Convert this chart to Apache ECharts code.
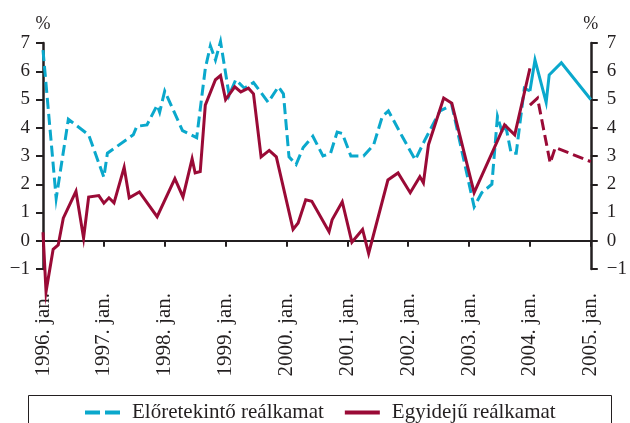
<!DOCTYPE html>
<html>
<head>
<meta charset="utf-8">
<script src="https://cdn.jsdelivr.net/npm/echarts@6/dist/echarts.min.js"></script>
<style>
  html, body { margin: 0; padding: 0; background: #fff; }
  #chart { width: 630px; height: 423px; }
</style>
</head>
<body>
<div id="chart"></div>
<script>
// x = months since 1996. jan.
const xLabels = ['1996. jan.', '1997. jan.', '1998. jan.', '1999. jan.', '2000. jan.',
  '2001. jan.', '2002. jan.', '2003. jan.', '2004. jan.', '2005. jan.']
const yTicks = [-1, 0, 1, 2, 3, 4, 5, 6, 7]

const forwardName = 'Előretekintő reálkamat'
const currentName = 'Egyidejű reálkamat'

// Előretekintő reálkamat (dashed part, then solid from 2004. jan.)
const forwardPast = [
  [0, 6.75], [2.6, 1.5], [5, 4.3], [9, 3.75], [12, 2.25], [12.7, 3.1], [17.8, 3.75],
  [18.5, 4.05], [20.5, 4.1], [22.5, 4.8], [23, 4.55], [24, 5.3], [27.5, 3.9], [30.3, 3.65],
  [32, 6.1], [33, 6.9], [34, 6.4], [35, 7.05], [36.7, 5.15], [38, 5.7], [39.7, 5.4],
  [41.5, 5.6], [44.4, 4.9], [46.4, 5.45], [47.4, 5.2], [48.5, 2.97], [49.9, 2.7],
  [51.3, 3.3], [53.2, 3.7], [55.2, 3.0], [56.7, 3.1], [58, 3.85], [59, 3.8], [60.7, 3.0],
  [63.2, 3.0], [65.2, 3.4], [66.9, 4.4], [68.1, 4.6], [70.8, 3.7], [73.4, 2.86],
  [75.3, 3.57], [78.3, 4.6], [80.6, 4.8], [85, 1.2], [86.5, 1.7], [88.5, 2.0], [89.6, 4.4],
  [90.6, 3.8], [91.3, 4.0], [92.3, 3.1], [93.3, 3.1], [94.9, 5.4], [96, 5.3]
]
const forwardLater = [[96, 5.3], [97, 6.4], [99.2, 4.9], [99.8, 5.87], [102.2, 6.3], [108, 5.0]]

// Egyidejű reálkamat (solid up to 2004. jan., dashed afterwards)
const currentPast = [
  [0, 0.3], [0.6, -1.8], [2, -0.3], [3, -0.15], [4, 0.8], [6.5, 1.75], [8, 0.1], [9, 1.55],
  [11, 1.6], [12, 1.33], [13, 1.52], [14, 1.34], [16, 2.6], [17, 1.52], [19, 1.73],
  [22.5, 0.85], [26, 2.2], [27.6, 1.55], [29.4, 2.9], [30, 2.4], [31, 2.45], [32, 4.8],
  [34, 5.7], [35, 5.85], [36, 5.0], [37.8, 5.45], [39, 5.27], [40.5, 5.4], [41.5, 5.2],
  [43, 2.97], [44.6, 3.2], [46, 2.97], [49.3, 0.4], [50.3, 0.63], [51.8, 1.45], [53, 1.4],
  [56.4, 0.32], [57, 0.74], [59, 1.38], [60.9, -0.05], [63, 0.4], [64.2, -0.45], [68, 2.15],
  [70, 2.4], [72.4, 1.7], [74.3, 2.27], [75, 2.05], [76, 3.4], [79, 5.05], [80.6, 4.87],
  [85, 1.7], [87, 2.5], [89, 3.3], [91, 4.1], [93, 3.75], [96, 6.1]
]
const currentLater = [[96, 4.8], [97.5, 5.05], [100, 2.75], [101, 3.3], [108, 2.8]]

const cyan = '#0aa8cc'
const wine = '#9a0a36'
const ink = '#231f20'
const font = '"Liberation Serif", "DejaVu Serif", serif'

const chart = echarts.init(document.getElementById('chart'), null, { renderer: 'canvas' })

const lineSeries = (name, data, color, dashed) => ({
  name,
  type: 'line',
  data,
  symbol: 'none',
  clip: false,
  animation: false,
  lineStyle: { color, width: 3, type: dashed ? [11, 5] : 'solid', join: 'miter' },
  itemStyle: { color }
})

const yAxisBase = (position, margin) => ({
  type: 'value',
  position,
  min: yTicks[0],
  max: yTicks[yTicks.length - 1],
  interval: 1,
  name: '%',
  nameLocation: 'end',
  nameGap: 10,
  nameTextStyle: { fontFamily: font, fontSize: 18, color: ink, align: 'center' },
  axisLine: { show: true, onZero: false, lineStyle: { color: ink, width: 2.5 } },
  axisTick: { show: true, inside: false, length: 7, lineStyle: { color: ink, width: 2 } },
  axisLabel: {
    margin,
    fontFamily: font,
    fontSize: 19,
    color: ink,
    formatter: (v) => (v < 0 ? '\u2212' + Math.abs(v) : String(v))
  },
  splitLine: { show: false }
})

chart.setOption({
  backgroundColor: '#fff',
  animation: false,
  grid: { left: 43, right: 35, top: 43, bottom: 154, containLabel: false },
  legend: {
    data: [
      { name: forwardName, icon: 'path://M0,0h15v4h-15z M20,0h15v4h-15z', itemStyle: { color: cyan } },
      { name: currentName, icon: 'rect', itemStyle: { color: wine } }
    ],
    left: 85,
    top: 402,
    padding: 0,
    itemWidth: 35,
    itemHeight: 4,
    itemGap: 21,
    textStyle: { fontFamily: font, fontSize: 21, color: ink, padding: [0, 0, 0, 7] }
  },
  graphic: [{
    type: 'rect',
    shape: { x: 28.5, y: 395.5, width: 583, height: 40 },
    style: { fill: 'none', stroke: ink, lineWidth: 1 },
    silent: true
  }],
  xAxis: [
    {
      // zero line with year ticks
      type: 'value',
      min: 0,
      max: 108,
      interval: 12,
      position: 'bottom',
      axisLine: { show: true, onZero: true, lineStyle: { color: ink, width: 2 } },
      axisTick: { show: true, inside: false, length: 6, lineStyle: { color: ink, width: 2 } },
      axisLabel: { show: false },
      splitLine: { show: false }
    },
    {
      // year labels under the plot
      type: 'value',
      min: 0,
      max: 108,
      interval: 12,
      position: 'bottom',
      axisLine: { show: false, onZero: false },
      axisTick: { show: false },
      axisLabel: {
        rotate: 90,
        margin: 24,
        fontFamily: font,
        fontSize: 21,
        color: ink,
        formatter: (v) => xLabels[Math.round(v / 12)] || ''
      },
      splitLine: { show: false }
    }
  ],
  yAxis: [yAxisBase('left', 13), yAxisBase('right', 16)],
  series: [
    lineSeries(forwardName, forwardPast, cyan, true),
    lineSeries(forwardName, forwardLater, cyan, false),
    lineSeries(currentName, currentPast, wine, false),
    lineSeries(currentName, currentLater, wine, true)
  ]
})
</script>
</body>
</html>
